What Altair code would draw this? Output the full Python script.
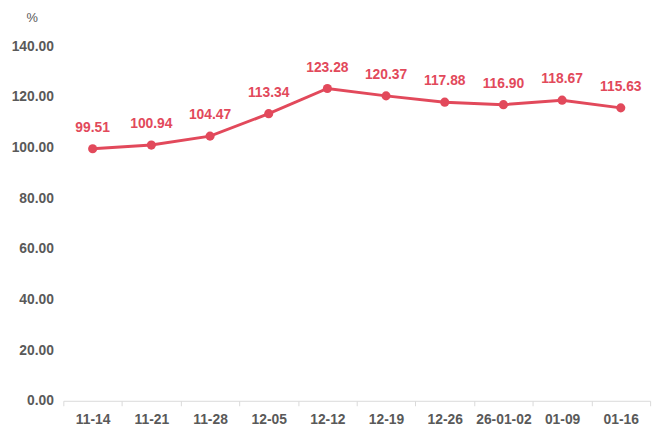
import altair as alt
import pandas as pd

dates = ["11-14", "11-21", "11-28", "12-05", "12-12", "12-19", "12-26", "26-01-02", "01-09", "01-16"]
values = [99.51, 100.94, 104.47, 113.34, 123.28, 120.37, 117.88, 116.90, 118.67, 115.63]

df = pd.DataFrame({"date": dates, "value": values})
df["label"] = df["value"].map(lambda v: f"{v:.2f}")

RED = "#E2495B"
FONT = "Liberation Sans"

x = alt.X("date:N", sort=dates, title=None,
          scale=alt.Scale(paddingInner=0, paddingOuter=0),
          axis=alt.Axis(labelAngle=0, tickBand="extent", domainColor="#d9d9d9", grid=False,
                        tickColor="#d9d9d9", tickSize=5, labelFont=FONT, labelFontSize=14,
                        labelFontWeight="bold", labelColor="#595959", labelPadding=7))
y = alt.Y("value:Q", scale=alt.Scale(domain=[0, 140]),
          axis=alt.Axis(values=[0, 20, 40, 60, 80, 100, 120, 140], format=".2f",
                        domain=False, ticks=False, grid=False, labelFont=FONT,
                        labelFontSize=14, labelFontWeight="bold", labelColor="#595959",
                        labelPadding=10, title="%", titleAngle=0, titleFont=FONT,
                        titleFontSize=13, titleFontWeight="normal", titleColor="#595959",
                        titleX=-32, titleY=-29, titleAlign="center", titleBaseline="middle"))

base = alt.Chart(df).encode(x=x, y=y)
line = base.mark_line(color=RED, strokeWidth=3, point=alt.OverlayMarkDef(color=RED, size=85, filled=True, opacity=1))
text = base.mark_text(color=RED, font=FONT, fontSize=14, fontWeight="bold", dy=-21).encode(text="label:N")

chart = (line + text).properties(
    width=594, height=359,
    background="white",
    autosize=alt.AutoSizeParams(type="none"),
    padding={"left": 56, "top": 36, "right": 10, "bottom": 30},
).configure_view(strokeWidth=0, stroke="transparent").configure_axis(grid=False)

chart.save("out.html", embed_options={"renderer": "svg", "actions": False})
